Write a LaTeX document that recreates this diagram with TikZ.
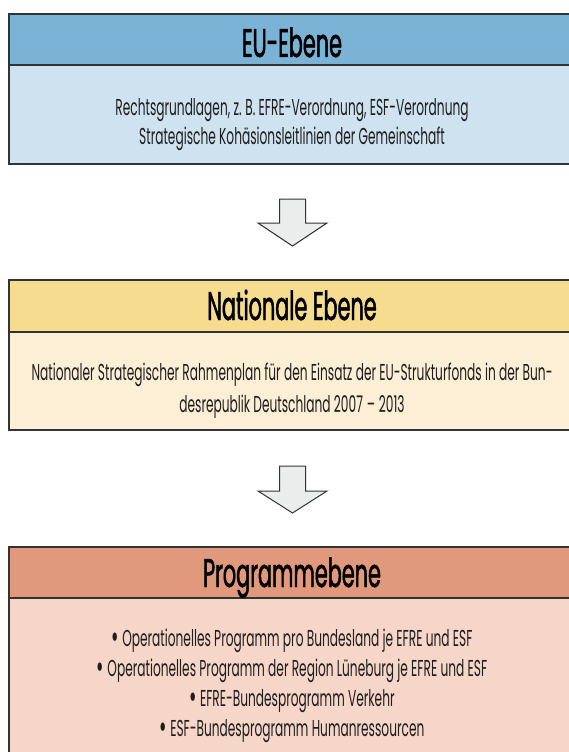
\documentclass[tikz,border=0pt]{standalone}
\usepackage{fontspec}
\setmainfont[FakeStretch=0.53]{Poppins}
\newfontfamily\titlefont[FakeStretch=0.52,FakeBold=1.2]{Poppins}
\definecolor{hOne}{HTML}{7BB3D6}
\definecolor{bOne}{HTML}{CFE2EF}
\definecolor{hTwo}{HTML}{F5DC8F}
\definecolor{bTwo}{HTML}{FCEFD5}
\definecolor{hThree}{HTML}{E0997C}
\definecolor{bThree}{HTML}{F5D6C8}
\definecolor{arrfill}{HTML}{EBECEC}
\definecolor{bordergray}{HTML}{333333}
\definecolor{txt}{HTML}{1E1E1E}
\newcommand{\bul}{\smash{\raisebox{-2.5pt}{\fontsize{34}{24}\selectfont •}}}
\begin{document}
\begin{tikzpicture}[x=1pt,y=-1pt,
  border/.style={draw=bordergray,line width=1.2pt},
  titletext/.style={font=\titlefont\fontsize{40}{42}\selectfont, text=black, anchor=base, inner sep=0pt},
  bodytext/.style={font=\fontsize{23}{26}\selectfont, text=txt, anchor=base, inner sep=0pt},
  blockarrow/.style={draw=bordergray,line width=1pt,fill=arrfill,line join=miter}]
\useasboundingbox (0,0) rectangle (569,752);
\clip (0,0) rectangle (569,752);
% Box 1
\fill[hOne] (9,14) rectangle (580,65);
\fill[bOne] (9,65) rectangle (580,164);
\draw[border] (9,14) rectangle (580,164);
\draw[border] (9,65) -- (580,65);
\node[titletext] (t1) at (292,57) {EU-Ebene};
\node[bodytext] (b1a) at (292,115) {Rechtsgrundlagen, z.\,B. EFRE-Verordnung, ESF-Verordnung};
\node[bodytext] (b1b) at (292,144) {Strategische Kohäsionsleitlinien der Gemeinschaft};
% Arrow 1
\draw[blockarrow] (279.5,199) -- (305.5,199) -- (305.5,223) -- (327,223) -- (292.5,246) -- (258,223) -- (279.5,223) -- cycle;
% Box 2
\fill[hTwo] (9,280) rectangle (580,332);
\fill[bTwo] (9,332) rectangle (580,430);
\draw[border] (9,280) rectangle (580,430);
\draw[border] (9,332) -- (580,332);
\node[titletext] (t2) at (292,320) {Nationale Ebene};
\node[bodytext] (b2a) at (292,380) {Nationaler Strategischer Rahmenplan für den Einsatz der EU-Strukturfonds in der Bun-};
\node[bodytext] (b2b) at (292,412) {desrepublik Deutschland 2007\,–\,2013};
% Arrow 2
\draw[blockarrow] (279.5,466) -- (305.5,466) -- (305.5,491) -- (327,491) -- (292.5,513) -- (258,491) -- (279.5,491) -- cycle;
% Box 3
\fill[hThree] (9,547) rectangle (580,598);
\fill[bThree] (9,598) rectangle (580,780);
\draw[border] (9,547) rectangle (580,780);
\draw[border] (9,598) -- (580,598);
\node[titletext] (t3) at (292,587) {Programmebene};
\node[bodytext] (b3a) at (292,646) {\bul\ Operationelles Programm pro Bundesland je EFRE und ESF};
\node[bodytext] (b3b) at (292,676) {\bul\ Operationelles Programm der Region Lüneburg je EFRE und ESF};
\node[bodytext] (b3c) at (292,706) {\bul\ EFRE-Bundesprogramm Verkehr};
\node[bodytext] (b3d) at (292,736) {\bul\ ESF-Bundesprogramm Humanressourcen};
\end{tikzpicture}
\end{document}
